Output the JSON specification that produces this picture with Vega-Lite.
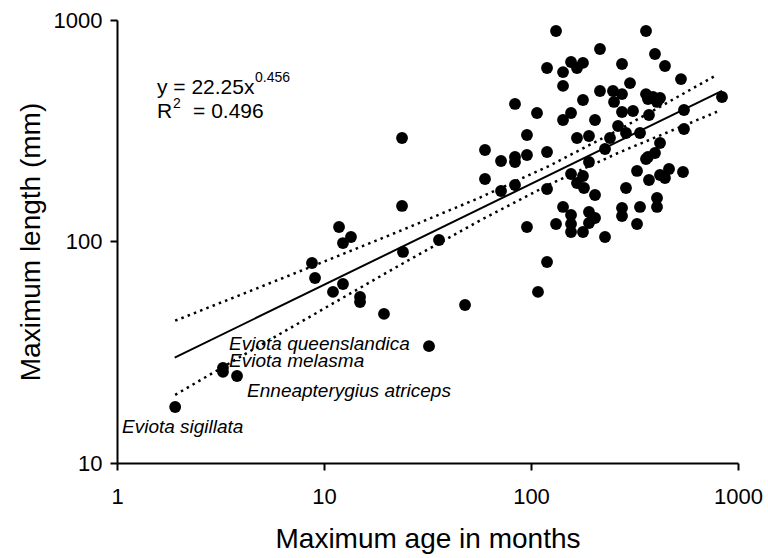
{
  "$schema": "https://vega.github.io/schema/vega-lite/v6.json",
  "width": 621,
  "height": 443,
  "autosize": "none",
  "padding": {"left": 117, "top": 20, "right": 30, "bottom": 95},
  "background": "white",
  "config": {
    "view": {"stroke": null},
    "font": "Liberation Sans",
    "axis": {
      "grid": false,
      "domainColor": "black",
      "domainWidth": 2,
      "tickColor": "black",
      "tickWidth": 2,
      "tickSize": 7,
      "labelColor": "black",
      "titleColor": "black",
      "labelFont": "Liberation Sans",
      "titleFont": "Liberation Sans",
      "labelFontSize": 22,
      "titleFontSize": 28,
      "titleFontWeight": "normal",
      "labelFlush": false,
      "labelOverlap": false,
      "labelBound": false
    }
  },
  "datasets": {
    "points": [
      {"age": 1.91, "len": 17.9}, {"age": 3.25, "len": 26.9}, {"age": 3.25, "len": 25.8}, {"age": 3.8, "len": 24.7},
      {"age": 8.75, "len": 80.0}, {"age": 9.05, "len": 68.4}, {"age": 11.05, "len": 59.2}, {"age": 11.82, "len": 116.3},
      {"age": 12.35, "len": 98.4}, {"age": 12.35, "len": 64.3}, {"age": 13.5, "len": 104.8}, {"age": 14.93, "len": 56.2},
      {"age": 14.93, "len": 53.3}, {"age": 19.49, "len": 47.1}, {"age": 23.82, "len": 293.3}, {"age": 23.82, "len": 144.7},
      {"age": 24.08, "len": 89.7}, {"age": 32.16, "len": 33.7}, {"age": 35.94, "len": 101.6}, {"age": 48.0, "len": 51.7},
      {"age": 59.95, "len": 258.9}, {"age": 59.95, "len": 191.5}, {"age": 71.64, "len": 230.9}, {"age": 71.64, "len": 169.0},
      {"age": 83.7, "len": 417.8}, {"age": 83.7, "len": 240.7}, {"age": 83.7, "len": 228.5}, {"age": 83.7, "len": 179.9},
      {"age": 95.6, "len": 302.5}, {"age": 95.6, "len": 245.8}, {"age": 95.6, "len": 116.3}, {"age": 106.9, "len": 380.4},
      {"age": 108.1, "len": 59.2}, {"age": 119.5, "len": 607}, {"age": 119.5, "len": 253.6}, {"age": 119.5, "len": 172.6},
      {"age": 119.5, "len": 80.8}, {"age": 132.1, "len": 892}, {"age": 132.1, "len": 120.0}, {"age": 142.8, "len": 582},
      {"age": 142.8, "len": 504}, {"age": 142.8, "len": 353.7}, {"age": 142.8, "len": 143.2}, {"age": 156.1, "len": 646},
      {"age": 156.1, "len": 380.4}, {"age": 156.1, "len": 201.7}, {"age": 156.1, "len": 131.7}, {"age": 156.1, "len": 120.0},
      {"age": 156.1, "len": 110.4}, {"age": 166.8, "len": 607}, {"age": 166.8, "len": 293.3}, {"age": 166.8, "len": 183.7},
      {"age": 178.3, "len": 640}, {"age": 178.3, "len": 435.5}, {"age": 178.3, "len": 197.6}, {"age": 178.3, "len": 110.4},
      {"age": 180.3, "len": 174.4}, {"age": 190.6, "len": 299.4}, {"age": 190.6, "len": 228.5}, {"age": 190.6, "len": 135.9},
      {"age": 190.6, "len": 121.2}, {"age": 203.8, "len": 353.7}, {"age": 203.8, "len": 162.2}, {"age": 203.8, "len": 127.7},
      {"age": 215.4, "len": 740}, {"age": 215.4, "len": 478}, {"age": 227.8, "len": 261.6}, {"age": 227.8, "len": 104.8},
      {"age": 240.7, "len": 293.3}, {"age": 248.9, "len": 478}, {"age": 251.8, "len": 426.6}, {"age": 263.3, "len": 332.2},
      {"age": 275.2, "len": 633}, {"age": 275.2, "len": 463}, {"age": 275.2, "len": 384.4}, {"age": 275.2, "len": 141.7},
      {"age": 275.2, "len": 130.3}, {"age": 287.7, "len": 308.9}, {"age": 287.7, "len": 174.4}, {"age": 300.8, "len": 519},
      {"age": 311.0, "len": 388.4}, {"age": 325.2, "len": 208.2}, {"age": 325.2, "len": 120.0}, {"age": 336.2, "len": 308.9},
      {"age": 336.2, "len": 143.2}, {"age": 359.4, "len": 892}, {"age": 359.4, "len": 463}, {"age": 359.4, "len": 235.8},
      {"age": 367.4, "len": 440}, {"age": 367.4, "len": 240.7}, {"age": 371.5, "len": 372.6}, {"age": 371.5, "len": 189.5},
      {"age": 388.5, "len": 449}, {"age": 397.2, "len": 702}, {"age": 397.2, "len": 251}, {"age": 406.2, "len": 426.6},
      {"age": 406.2, "len": 157.2}, {"age": 406.2, "len": 143.2}, {"age": 420.0, "len": 444.6}, {"age": 420.0, "len": 278.4},
      {"age": 420.0, "len": 199.6}, {"age": 443.9, "len": 620}, {"age": 443.9, "len": 193.5}, {"age": 464.2, "len": 212.5},
      {"age": 530.4, "len": 541}, {"age": 542.4, "len": 206}, {"age": 548.4, "len": 392.5}, {"age": 548.4, "len": 322},
      {"age": 837, "len": 449}
    ],
    "fit": [
      {"age": 1.9, "len": 29.9},
      {"age": 837, "len": 479}
    ],
    "upper": [
      {"age": 1.91, "len": 43.9}, {"age": 4.39, "len": 59.7}, {"age": 10.69, "len": 83.2}, {"age": 23.29, "len": 111.6},
      {"age": 56.7, "len": 157.9}, {"age": 123.6, "len": 220.4}, {"age": 269.2, "len": 321.6}, {"age": 791.8, "len": 565.7}
    ],
    "lower": [
      {"age": 1.91, "len": 20.3}, {"age": 4.39, "len": 31.96}, {"age": 10.69, "len": 51.6}, {"age": 23.29, "len": 78.3},
      {"age": 56.7, "len": 124.5}, {"age": 123.6, "len": 181.6}, {"age": 269.2, "len": 253.3}, {"age": 791.8, "len": 385.2}
    ],
    "species": [
      {"age": 3.48, "len": 32.4, "label": "Eviota queenslandica"},
      {"age": 3.48, "len": 27.1, "label": "Eviota melasma"},
      {"age": 4.25, "len": 19.9, "label": "Enneapterygius atriceps"},
      {"age": 1.057, "len": 13.66, "label": "Eviota sigillata"}
    ],
    "equation": [
      {"age": 1.56, "len": 463, "label": "y = 22.25x"},
      {"age": 1.56, "len": 361, "label": "R"},
      {"age": 2.33, "len": 361, "label": "= 0.496"}
    ],
    "superscripts": [
      {"age": 4.64, "len": 525, "label": "0.456"},
      {"age": 1.865, "len": 400, "label": "2"}
    ]
  },
  "encoding": {
    "x": {
      "field": "age", "type": "quantitative",
      "scale": {"type": "log", "domain": [1, 1000], "nice": false},
      "axis": {"title": "Maximum age in months", "values": [1, 10, 100, 1000], "format": ".0f", "labelPadding": 16, "titlePadding": 18}
    },
    "y": {
      "field": "len", "type": "quantitative",
      "scale": {"type": "log", "domain": [10, 1000], "nice": false},
      "axis": {"title": "Maximum length (mm)", "values": [10, 100, 1000], "format": ".0f", "labelPadding": 8, "titlePadding": 8}
    }
  },
  "layer": [
    {
      "data": {"name": "upper"},
      "mark": {"type": "line", "color": "black", "strokeWidth": 2.5, "strokeDash": [2.5, 4.2]}
    },
    {
      "data": {"name": "lower"},
      "mark": {"type": "line", "color": "black", "strokeWidth": 2.5, "strokeDash": [2.5, 4.2]}
    },
    {
      "data": {"name": "fit"},
      "mark": {"type": "line", "color": "black", "strokeWidth": 2}
    },
    {
      "data": {"name": "points"},
      "mark": {"type": "circle", "color": "black", "opacity": 1, "size": 140}
    },
    {
      "data": {"name": "species"},
      "mark": {"type": "text", "align": "left", "baseline": "alphabetic", "fontSize": 19, "fontStyle": "italic", "color": "black"},
      "encoding": {"text": {"field": "label"}}
    },
    {
      "data": {"name": "equation"},
      "mark": {"type": "text", "align": "left", "baseline": "alphabetic", "fontSize": 21, "color": "black"},
      "encoding": {"text": {"field": "label"}}
    },
    {
      "data": {"name": "superscripts"},
      "mark": {"type": "text", "align": "left", "baseline": "alphabetic", "fontSize": 14, "color": "black"},
      "encoding": {"text": {"field": "label"}}
    }
  ]
}
